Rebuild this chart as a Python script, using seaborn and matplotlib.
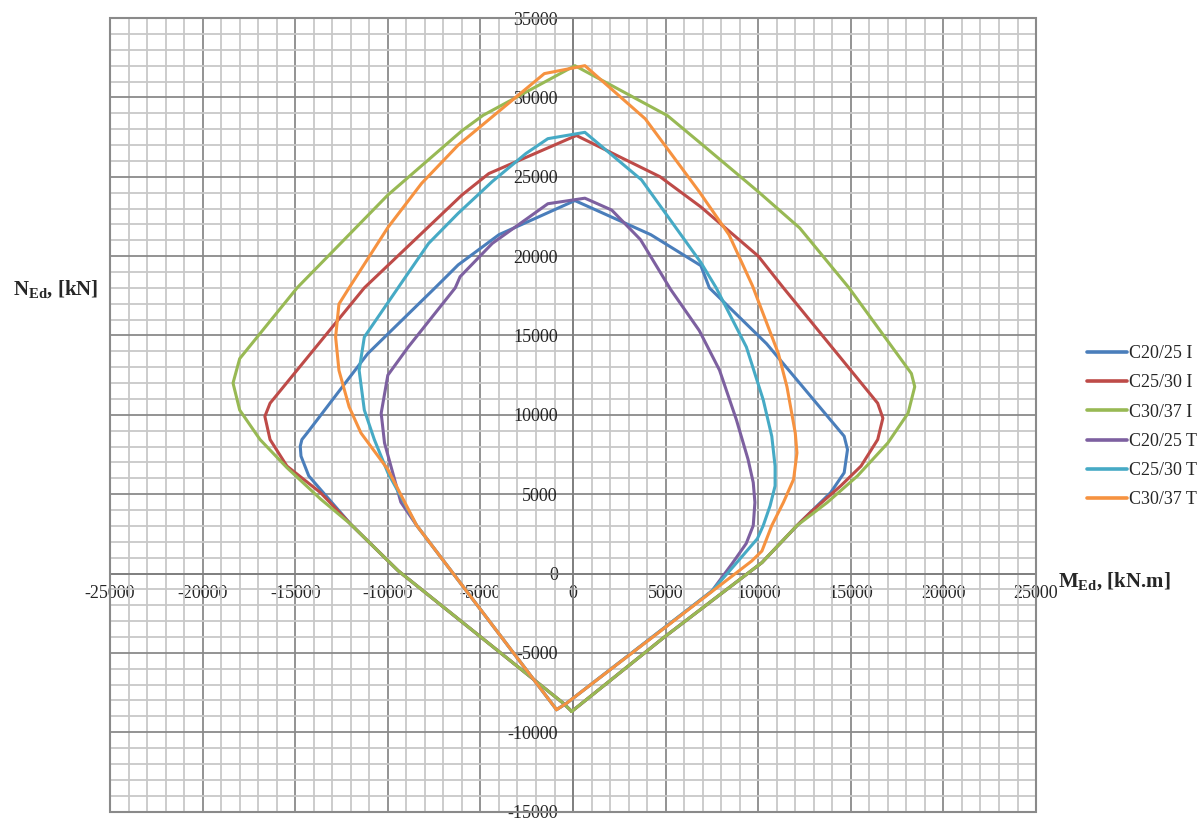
import pandas as pd
import seaborn as sns
import matplotlib.pyplot as plt
from matplotlib.lines import Line2D
from matplotlib.patches import Rectangle
from matplotlib.ticker import MultipleLocator

# interaction curves, M [kN.m] and N [kN]
m_c2025_i = [-70, -530, -2980, -9440, -12000, -13640, -14270, -14690, -14730, -14640, -14360,
             -11090, -7450, -6200, -4000, 100, 4200, 6900, 7360, 10450, 14640, 14820, 14640,
             13910, 12270, 10200, 4870, -70]
n_c2025_i = [-8690, -8170, -5875, 170, 3100, 5300, 6150, 7400, 8020, 8440, 8850,
             13850, 18000, 19450, 21350, 23500, 21350, 19400, 18000, 14480, 8650, 7810, 6350,
             5100, 3230, 690, -4060, -8690]

m_c2530_i = [-70, -530, -2980, -9440, -12000, -13640, -15450, -16360, -16640, -16360, -11270,
             -6000, -4550, 180, 4700, 6900, 10000, 11360, 16450, 16730, 16450, 15550, 14450,
             12820, 12090, 10200, 4870, -70]
n_c2530_i = [-8690, -8170, -5875, 170, 3100, 5100, 6770, 8440, 9900, 10730, 18000,
             23850, 25200, 27600, 25000, 23100, 20000, 18000, 10730, 9790, 8440, 6770, 5520,
             3850, 3020, 690, -4060, -8690]

m_c3037_i = [-70, -530, -2980, -9440, -12000, -13640, -15450, -16900, -18000, -18360, -18000,
             -14900, -10000, -6000, -4860, 100, 5100, 6900, 10000, 12240, 14900, 18270, 18450,
             18090, 17000, 15360, 13730, 12090, 10200, 4870, -70]
n_c3037_i = [-8690, -8170, -5875, 170, 3100, 4700, 6670, 8440, 10300, 12000, 13540,
             18000, 23850, 27900, 28870, 32000, 28850, 27100, 24060, 21770, 18000, 12600, 11770,
             10100, 8230, 6150, 4480, 3020, 690, -4060, -8690]

m_c2025_t = [-890, -8450, -9300, -9640, -10180, -10360, -10000, -8900, -6360, -6100, -4360,
             -1360, 640, 2090, 3640, 5270, 6820, 7910, 8820, 9450, 9730, 9820, 9730, 9350,
             8600, 7500, -345, -890]
n_c2025_t = [-8580, 3040, 4500, 5940, 8230, 10100, 12500, 14270, 18000, 18700, 20800,
             23300, 23650, 22900, 21040, 17900, 15300, 12810, 9690, 7190, 5730, 4480, 3020, 1890,
             640, -1100, -8170, -8580]

m_c2530_t = [-890, -8450, -10000, -10730, -11270, -11550, -11270, -9450, -7800, -6200, -4360,
             -2550, -1360, 640, 3700, 6900, 7730, 9360, 10270, 10730, 10910, 10910, 10640,
             10270, 9950, 8700, 7500, -345, -890]
n_c2530_t = [-8580, 3040, 6350, 8440, 10300, 12800, 14900, 18000, 20800, 22700, 24700,
             26460, 27400, 27800, 24800, 19600, 18000, 14270, 10940, 8650, 6770, 5520, 4270,
             3020, 2190, 500, -1100, -8170, -8580]

m_c3037_t = [-890, -8450, -10000, -11450, -12090, -12640, -12820, -12640, -12090, -10000, -8180,
             -6200, -1550, 640, 3900, 6850, 8420, 9690, 11090, 11550, 12000, 12090, 11910,
             11360, 10730, 10200, 9650, -345, -890]
n_c3037_t = [-8580, 3040, 6560, 8850, 10500, 12800, 14900, 16980, 18000, 21800, 24580,
             27000, 31500, 32000, 28650, 24000, 21350, 18125, 13850, 11770, 8850, 7600, 5940,
             4480, 3020, 1420, 790, -8170, -8580]

labels = ['C20/25 I', 'C25/30 I', 'C30/37 I', 'C20/25 T', 'C25/30 T', 'C30/37 T']
colors = ['#4A7EBB', '#BE4B48', '#98B954', '#7D60A0', '#46AAC5', '#F69240']

curves = [(m_c2025_i, n_c2025_i), (m_c2530_i, n_c2530_i), (m_c3037_i, n_c3037_i),
          (m_c2025_t, n_c2025_t), (m_c2530_t, n_c2530_t), (m_c3037_t, n_c3037_t)]

frames = []
for name, (m, n) in zip(labels, curves):
    frames.append(pd.DataFrame({'M': m, 'N': n, 'series': name}))
df = pd.concat(frames, ignore_index=True)

sns.set_style('white')
plt.rcParams['font.family'] = ['Liberation Serif', 'DejaVu Serif']
plt.rcParams['axes.unicode_minus'] = False
plt.rcParams['mathtext.fontset'] = 'custom'
plt.rcParams['mathtext.rm'] = 'Liberation Serif'
plt.rcParams['mathtext.bf'] = 'Liberation Serif:bold'

fig = plt.figure(figsize=(12.04, 8.21), dpi=100)
ax = fig.add_axes([0.0914, 0.0115, 0.7691, 0.9665])

sns.lineplot(data=df, x='M', y='N', hue='series', hue_order=labels, palette=colors,
             sort=False, estimator=None, lw=2.2, legend=False, ax=ax, zorder=3)

ax.set_xlim(-25000, 25000)
ax.set_ylim(-15000, 35000)
ax.xaxis.set_major_locator(MultipleLocator(5000))
ax.xaxis.set_minor_locator(MultipleLocator(1000))
ax.yaxis.set_major_locator(MultipleLocator(5000))
ax.yaxis.set_minor_locator(MultipleLocator(1000))
ax.grid(which='minor', color='#c8c8c8', lw=1.3)
ax.grid(which='major', color='#8a8a8a', lw=1.3)
ax.set_axisbelow(True)

# axes cross at zero, like the excel chart
ax.spines['left'].set_position(('data', 0))
ax.spines['bottom'].set_position(('data', 0))
for s in ['left', 'bottom']:
    ax.spines[s].set_color('#7f7f7f')
    ax.spines[s].set_linewidth(1.3)
ax.spines['top'].set_visible(False)
ax.spines['right'].set_visible(False)
ax.add_patch(Rectangle((0, 0), 1, 1, transform=ax.transAxes, fill=False,
                       ec='#8a8a8a', lw=1.5, clip_on=False, zorder=4))

ax.tick_params(which='both', length=0, labelsize=13)
ax.tick_params(axis='y', pad=11)
ax.tick_params(axis='x', pad=8)
ax.set_xlabel('')
ax.set_ylabel('')

fig.text(0.011, 1 - 290 / 821, r'N$_{\mathbf{Ed}}$, [kN]', fontsize=15,
         fontweight='bold', va='center', ha='left')
fig.text(1058 / 1204, 1 - 582 / 821, r'M$_{\mathbf{Ed}}$, [kN.m]', fontsize=15,
         fontweight='bold', va='center', ha='left')

handles = [Line2D([], [], color=c, lw=2.6) for c in colors]
ax.legend(handles, labels, loc='upper left', bbox_to_anchor=(1087 / 1204, 1 - 345 / 821),
          bbox_transform=fig.transFigure, frameon=False, fontsize=13, borderpad=0,
          borderaxespad=0, handlelength=2.2, handletextpad=0.15, labelspacing=0.68)

fig.savefig('out.png', dpi=100)
